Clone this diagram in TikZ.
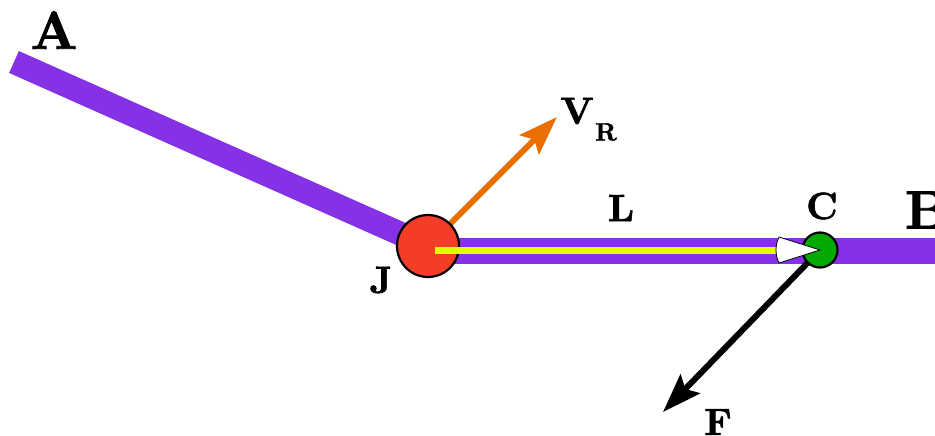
\documentclass[tikz,border=0pt]{standalone}
\usepackage{fontspec}
\usetikzlibrary{arrows.meta}
\newfontfamily\lblfont{lmroman10-bold}[Extension=.otf, FakeBold=1.6]
\definecolor{barpurple}{RGB}{133,50,230}
\definecolor{jred}{RGB}{245,60,38}
\definecolor{cgreen}{RGB}{0,170,0}
\definecolor{lyellow}{RGB}{232,250,0}
\definecolor{vorange}{RGB}{235,110,0}
\tikzset{
  bar/.style={barpurple, line cap=butt},
  joint/.style={circle, draw=black, line width=2.2pt, inner sep=0pt},
  bigletter/.style={inner sep=0pt, font=\lblfont\fontsize{54}{54}\selectfont},
  letter/.style={inner sep=0pt, font=\lblfont\fontsize{38}{38}\selectfont},
  subletter/.style={inner sep=0pt, font=\lblfont\fontsize{25}{25}\selectfont},
  force/.style={line width=6pt, -{Stealth[length=39pt,width=27pt,inset=7pt]}}
}
\begin{document}
\begin{tikzpicture}[x=1pt,y=-1pt]
\useasboundingbox (0,0) rectangle (935,436);
% named points
\coordinate (Aend) at (14,62);
\coordinate (Bend) at (960,251);
\coordinate (Jc) at (428,246);
\coordinate (Cc) at (820,250);
\coordinate (Vtip) at (557,117);
\coordinate (Ftip) at (663,412);
% bars
\draw[bar, line width=24pt] (Aend) -- (Jc);
\draw[bar, line width=26pt] (Jc |- Bend) -- (Bend);
% orange velocity arrow
\draw[force, vorange] (Jc) -- (Vtip);
% joint J
\node[joint, fill=jred, minimum size=62pt] (J) at (Jc) {};
% yellow line L
\coordinate (Ls) at (435,250.5);
\coordinate (Lb) at (782,250.5);
\draw[lyellow, line width=7.5pt] (Ls) -- (Lb);
% force F
\draw[force, black] (Cc) -- (Ftip);
% point C
\node[joint, fill=cgreen, minimum size=35pt] (C) at (Cc) {};
% white arrowhead of L
\draw[black, line width=0.8pt, fill=white] (779,237) -- (Cc) -- (779,263) .. controls (775,255) and (775,245) .. (779,237) -- cycle;
% labels
\node[bigletter] (labA) at (54,30) {A};
\node[bigletter] (labB) at (927,210) {B};
\node[letter] (labC) at (822,206) {C};
\node[letter] (labL) at (621,208) {L};
\node[letter] (labJ) at (381,280) {J};
\node[letter] (labV) at (577,111) {V};
\node[subletter] (labR) at (606,132) {R};
\node[letter] (labF) at (718,422) {F};
\end{tikzpicture}
\end{document}
